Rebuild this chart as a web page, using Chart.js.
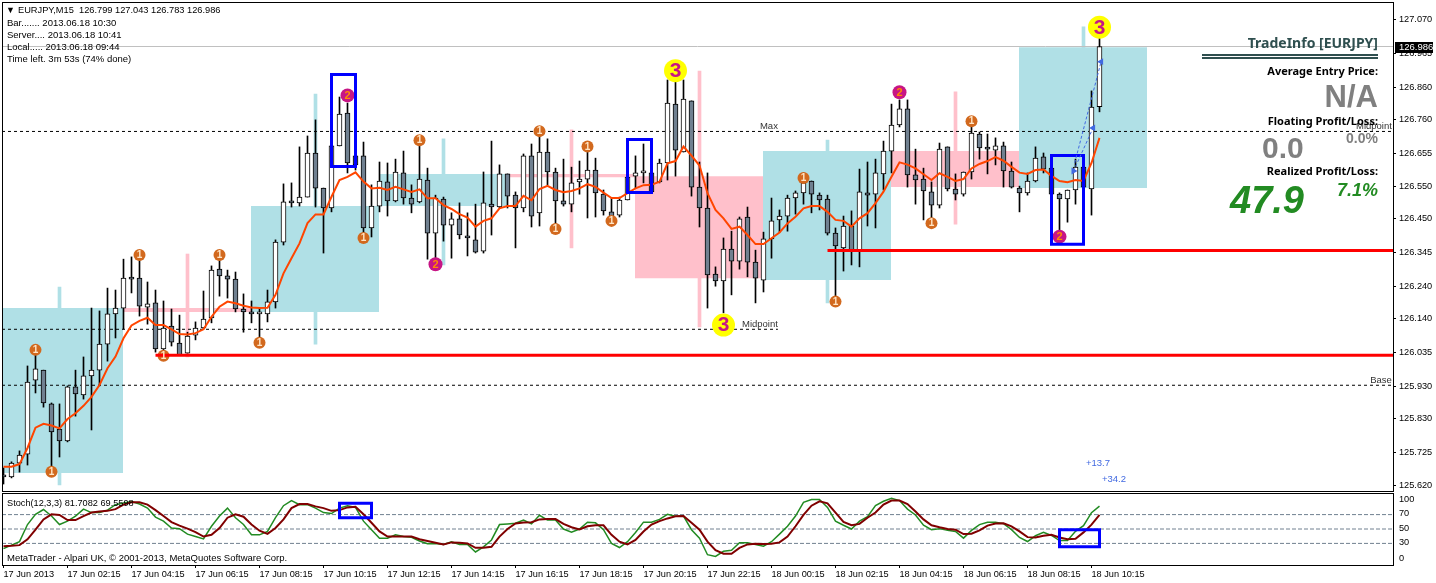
<!DOCTYPE html>
<html>
<head>
<meta charset="utf-8">
<title>EURJPY,M15</title>
<script src="https://cdn.jsdelivr.net/npm/chart.js@4"></script>
<style>
html, body { margin: 0; padding: 0; background: #fff; overflow: hidden; }
canvas { position: absolute; left: 0; }
#main { top: 0; }
#stoch { top: 492px; }
.t { position: absolute; white-space: pre; font-family: "Liberation Sans", sans-serif; line-height: 12px; }
.info { font-size: 9.5px; color: #000; }
.r { right: 58px; text-align: right; font-weight: bold; }
.lab { font-family: "Noto Sans", sans-serif; font-size: 11px; color: #000; line-height: 14px; }
.grey { color: #808080; }
.green { color: #228b22; font-style: italic; }
.rule { position: absolute; left: 1202px; width: 176px; height: 2px; background: #2f4f4f; }
</style>
</head>
<body>
<canvas id="main" width="1436" height="492"></canvas>
<canvas id="stoch" width="1436" height="91"></canvas>

<div class="t info" style="left:6px;top:4px;font-size:9px">&#9660;</div>
<div class="t info" style="left:18px;top:4px;font-size:9.25px">EURJPY,M15  126.799 127.043 126.783 126.986</div>
<div class="t info" style="left:7px;top:17px">Bar....... 2013.06.18 10:30</div>
<div class="t info" style="left:7px;top:29px">Server.... 2013.06.18 10:41</div>
<div class="t info" style="left:7px;top:41px">Local..... 2013.06.18 09:44</div>
<div class="t info" style="left:7px;top:53px">Time left. 3m 53s (74% done)</div>
<div class="t info" style="left:7px;top:497px;font-size:9.2px">Stoch(12,3,3) 81.7082 69.5598</div>
<div class="t info" style="left:7px;top:552px">MetaTrader - Alpari UK, © 2001-2013, MetaQuotes Software Corp.</div>

<div class="t r lab" style="top:36px;font-size:14px;color:#2f4f4f">TradeInfo [EURJPY]</div>
<div class="rule" style="top:54px"></div>
<div class="rule" style="top:57px"></div>
<div class="t r lab" style="top:64px">Average Entry Price:</div>
<div class="t r grey" style="top:80px;font-size:31px;line-height:34px">N/A</div>
<div class="t r lab" style="top:114px">Floating Profit/Loss:</div>
<div class="t r grey" style="top:130px;font-size:14px;line-height:16px">0.0%</div>
<div class="t grey" style="left:1262px;top:131px;font-size:30px;line-height:34px;font-weight:bold">0.0</div>
<div class="t r lab" style="top:164px">Realized Profit/Loss:</div>
<div class="t r green" style="top:180px;font-size:18px;line-height:20px">7.1%</div>
<div class="t green" style="left:1230px;top:178px;font-size:38px;line-height:44px;font-weight:bold">47.9</div>

<script>
// bars, oldest first (17 Jun 00:15 .. 18 Jun 10:30, M15)
const opens = [125.651,125.648,125.691,125.719,125.949,125.980,125.875,125.797,125.760,125.928,125.903,125.962,125.980,126.061,126.155,126.173,126.266,126.266,126.176,126.189,126.046,126.117,126.064,126.033,126.089,126.111,126.142,126.294,126.273,126.263,126.170,126.161,126.155,126.155,126.192,126.378,126.503,126.500,126.518,126.655,126.546,126.484,126.677,126.779,126.646,126.646,126.422,126.490,126.565,126.506,126.593,126.515,126.503,126.571,126.406,126.512,126.431,126.450,126.397,126.385,126.350,126.496,126.487,126.590,126.524,126.484,126.646,126.469,126.658,126.596,126.506,126.496,126.565,126.574,126.602,126.527,126.472,126.462,126.509,126.583,126.593,126.593,126.565,126.624,126.807,126.658,126.817,126.549,126.484,126.279,126.257,126.356,126.319,126.456,126.316,126.260,126.388,126.447,126.459,126.515,126.531,126.568,126.524,126.512,126.406,126.360,126.428,126.353,126.531,126.527,126.590,126.661,126.742,126.792,126.587,126.574,126.534,126.493,126.674,126.543,126.527,126.596,126.714,126.671,126.664,126.677,126.599,126.546,126.531,126.568,126.643,126.608,126.527,126.512,126.540,126.611,126.543,126.799];
const highs = [125.676,125.695,125.729,125.993,126.027,125.980,125.878,125.875,125.931,125.980,126.021,126.173,126.164,126.235,126.229,126.325,126.332,126.338,126.254,126.229,126.195,126.170,126.151,126.098,126.130,126.226,126.304,126.322,126.291,126.285,126.217,126.195,126.173,126.229,126.385,126.559,126.562,126.674,126.708,126.758,126.546,126.677,126.829,126.810,126.664,126.689,126.556,126.627,126.624,126.636,126.661,126.556,126.695,126.608,126.524,126.518,126.469,126.500,126.469,126.496,126.596,126.692,126.618,126.590,126.534,126.652,126.683,126.723,126.699,126.608,126.636,126.611,126.630,126.674,126.639,126.540,126.515,126.518,126.580,126.646,126.683,126.593,126.636,126.882,126.882,126.882,126.817,126.627,126.593,126.301,126.391,126.412,126.456,126.487,126.353,126.409,126.515,126.478,126.524,126.537,126.593,126.568,126.531,126.524,126.422,126.459,126.475,126.605,126.627,126.636,126.692,126.807,126.820,126.820,126.667,126.608,126.565,126.686,126.674,126.590,126.596,126.739,126.720,126.714,126.702,126.689,126.627,126.552,126.593,126.674,126.655,126.608,126.531,126.540,126.636,126.611,126.848,127.043];
const lows = [125.626,125.645,125.663,125.685,125.909,125.865,125.670,125.710,125.757,125.837,125.890,125.794,125.931,126.008,126.080,126.108,126.220,126.148,126.123,126.036,126.036,126.055,126.027,126.033,126.074,126.108,126.127,126.210,126.204,126.161,126.098,126.127,126.067,126.130,126.173,126.369,126.487,126.490,126.518,126.487,126.344,126.472,126.677,126.593,126.602,126.394,126.394,126.472,126.459,126.503,126.496,126.469,126.500,126.325,126.328,126.381,126.328,126.388,126.335,126.344,126.344,126.400,126.484,126.484,126.360,126.472,126.425,126.428,126.556,126.422,126.490,126.472,126.527,126.453,126.456,126.462,126.447,126.456,126.509,126.546,126.562,126.534,126.562,126.571,126.583,126.658,126.521,126.425,126.173,126.241,126.158,126.214,126.294,126.270,126.189,126.223,126.328,126.409,126.412,126.465,126.496,126.469,126.478,126.400,126.192,126.288,126.307,126.301,126.428,126.422,126.540,126.593,126.736,126.549,126.496,126.447,126.453,126.484,126.537,126.509,126.521,126.574,126.636,126.590,126.618,126.549,126.546,126.472,126.524,126.565,126.593,126.527,126.416,126.440,126.496,126.549,126.462,126.783];
const closes = [125.648,125.691,125.716,125.943,125.984,125.878,125.788,125.760,125.928,125.906,125.962,125.980,126.061,126.155,126.173,126.266,126.263,126.179,126.186,126.046,126.111,126.067,126.027,126.086,126.111,126.139,126.291,126.273,126.263,126.170,126.161,126.155,126.155,126.192,126.378,126.503,126.500,126.518,126.655,126.546,126.484,126.677,126.776,126.624,126.618,126.422,126.490,126.568,126.506,126.596,126.515,126.496,126.574,126.406,126.515,126.431,126.450,126.400,126.391,126.347,126.500,126.487,126.590,126.521,126.484,126.646,126.459,126.658,126.596,126.506,126.496,126.562,126.574,126.602,126.531,126.475,126.456,126.509,126.580,126.593,126.593,126.534,126.624,126.810,126.664,126.823,126.549,126.484,126.276,126.257,126.356,126.319,126.450,126.316,126.266,126.388,126.444,126.459,126.515,126.531,126.562,126.527,126.509,126.406,126.366,126.428,126.353,126.534,126.524,126.593,126.661,126.742,126.792,126.587,126.571,126.537,126.493,126.667,126.543,126.527,126.596,126.717,126.671,126.667,126.677,126.599,126.549,126.531,126.568,126.639,126.605,126.527,126.512,126.540,126.611,126.549,126.798,126.986];
const maLine = [125.680,125.680,125.688,125.738,125.801,125.813,125.808,125.799,125.828,125.846,125.869,125.897,125.934,125.986,126.022,126.079,126.119,126.133,126.143,126.120,126.120,126.107,126.092,126.091,126.095,126.107,126.146,126.177,126.193,126.188,126.180,126.175,126.173,126.174,126.214,126.281,126.328,126.374,126.437,126.464,126.464,126.519,126.571,126.581,126.595,126.566,126.545,126.547,126.540,126.550,126.542,126.534,126.542,126.514,126.514,126.493,126.481,126.465,126.454,126.426,126.444,126.452,126.483,126.490,126.490,126.522,126.508,126.543,126.553,126.540,126.533,126.537,126.545,126.558,126.550,126.532,126.515,126.515,126.530,126.545,126.555,126.556,126.566,126.623,126.630,126.675,126.647,126.616,126.530,126.478,126.452,126.419,126.426,126.400,126.372,126.372,126.390,126.408,126.436,126.457,126.483,126.490,126.490,126.472,126.447,126.444,126.426,126.452,126.468,126.499,126.535,126.581,126.626,126.619,126.607,126.589,126.571,126.592,126.581,126.568,126.574,126.607,126.621,126.630,126.642,126.631,126.612,126.594,126.590,126.602,126.604,126.584,126.568,126.564,126.571,126.568,126.624,126.702];

// stochastic %K and %D
const stochK = [22.8,27.6,32.4,56.2,70.4,77.1,68,56.2,60.9,68,77.6,72.8,72.8,76.2,83.8,86.2,88.1,84.7,79,66.6,60.9,51.4,50.5,42.9,39.5,36.2,53.8,68,79,65.7,56.2,41.9,41.9,46.6,65.7,82.4,89.5,83.8,83.8,79,72.8,71.4,79,82.4,80,60.9,49,37.1,37.1,41.9,39.5,38.6,33.3,29.5,30,28.6,32.4,28.6,28.6,18.1,25.2,34.8,56.2,57.1,58.1,62.4,57.1,69,62.4,62.4,50,45.7,50,59.5,58.6,49,30,24.3,32.4,45.2,59.5,59.5,63.3,70.4,67.6,68,49,37.1,14.3,11.9,19,20.5,30.9,30.9,28.6,26.2,32.4,42.9,53.8,68,87.1,90.9,90.9,80,60.9,55.2,50,60.9,67.1,82.4,88.5,92.8,89.5,77.6,69.5,55.2,49,50.5,48.1,46.6,37.3,48.1,56.1,59.4,59.4,57.5,49.1,38.2,32.6,40.6,45.3,41,34,34,46.7,54.7,72.6,81.7];
const stochD = [26.2,26.7,27.6,35.7,49,63.3,70.4,69.5,62.4,62.4,68,72.8,74.3,75.2,77.6,83.8,87.1,87.1,83.8,76.2,68,59.5,54.7,50.5,45.7,39.5,41.9,51.4,65.7,70.4,67.1,56.2,47.6,43.3,51.4,63.3,79,84.7,84.7,81.4,79,75.2,76.2,80,80.9,70.4,58.6,46.6,39.5,39.5,39.5,39.5,35.7,33.3,30.9,28.6,31.4,30.9,30,23.8,23.8,25.2,39.5,50,57.6,59,59.5,63.3,63.8,63.8,57.1,52.4,49.5,53.8,55.2,55.2,41.9,32.4,28.6,34.8,46.6,56.2,60.9,64.7,67.6,68,58.6,49,32.4,20.5,15.7,15.7,23.8,28.6,29.5,29,29.5,31.4,39.5,53.8,69.5,82.4,88.5,85.7,72.8,60,55.2,57.1,65.7,72.8,83.8,89.5,89.5,84.7,74.3,63.3,55.2,52.4,50,49,42.9,43.4,48.1,54.7,57.5,58,53.7,46.7,38.7,38.2,40.6,42,38.2,35.9,36.3,45.3,56.1,69.56];

// axis ticks
const priceTicks = [127.07,126.965,126.86,126.76,126.655,126.55,126.45,126.345,126.24,126.14,126.035,125.93,125.83,125.725,125.62];
const timeLabels = ['17 Jun 2013','17 Jun 02:15','17 Jun 04:15','17 Jun 06:15','17 Jun 08:15','17 Jun 10:15','17 Jun 12:15','17 Jun 14:15','17 Jun 16:15','17 Jun 18:15','17 Jun 20:15','17 Jun 22:15','18 Jun 00:15','18 Jun 02:15','18 Jun 04:15','18 Jun 06:15','18 Jun 08:15','18 Jun 10:15'];
const timeTickBars = [0,8,16,24,32,40,48,56,64,72,80,88,96,104,112,120,128,136];
const stochLevels = [70,50,30];
const stochTickSpots = [91,71,51,31,9]; // MT4 pushes 100 and 0 inside the pane
const stochTickLabels = ['100','70','50','30','0'];

// 4h candles behind the chart
const zoneEdges = [-1,15,31,47,63,79,95,111,127,143];
const zoneTop = [126.173,126.173,126.490,126.590,126.590,126.583,126.661,126.661,126.984];
const zoneBottom = [125.660,126.161,126.161,126.490,126.580,126.266,126.260,126.549,126.546];
const zoneUp = [true,false,true,true,false,false,true,false,true];
const zoneWickBar = [7,23,39,55,71,87,103,119,135];
const zoneWickHigh = [126.238,126.341,126.838,126.699,126.727,126.910,126.695,126.845,127.047];
const zoneWickLow = [125.623,126.021,126.061,126.307,126.360,126.114,126.189,126.434,126.546];

// levels
const maxLevel = 126.722;
const midLevel = 126.107;
const midLevelEnd = 96.8;
const baseLevel = 125.933;
const supportPrices = [126.026,126.352];
const supportStarts = [19,103];

// numbered swing markers
const marker1Bars = [4,6,17,20,27,32,45,52,67,69,73,76,100,104,116,121];
const marker1Prices = [126.043,125.664,126.338,126.025,126.338,126.065,126.391,126.695,126.723,126.419,126.675,126.444,126.577,126.193,126.437,126.754];
const marker2Bars = [43,54,112,132];
const marker2Prices = [126.834,126.309,126.844,126.395];
const marker3Bars = [84,90,137];
const marker3Prices = [126.911,126.120,127.046];

// blue boxes
const boxLeft = [41,78,131];
const boxRight = [44,81,135];
const boxTop = [126.899,126.697,126.647];
const boxBottom = [126.613,126.532,126.371];
const stochBoxLeft = [42,132];
const stochBoxRight = [46,137];
const stochBoxTop = [85.7,49];
const stochBoxBottom = [65.5,25.4];

// trade arrows
const tradeBars = [133.75,136.2,137.2];
const tradePrices = [126.599,126.733,126.939];
const tradeRotation = [90,-90,-90];
const tradePathA = [{x:133.75,y:126.599},{x:136.2,y:126.733}];
const tradePathB = [{x:133.9,y:126.624},{x:137.2,y:126.939}];

// chart text tied to data positions
const chartNotes = [
  {text:'Max', x:96.8, y:126.739, align:'right', color:'#333'},
  {text:'Midpoint', x:96.8, y:126.123, align:'right', color:'#333'},
  {text:'Midpoint', x:173.55, y:126.739, align:'right', color:'#333'},
  {text:'Base', x:173.55, y:125.949, align:'right', color:'#333'},
  {text:'+13.7', x:135.3, y:125.691, align:'left', color:'#4169e1'},
  {text:'+34.2', x:137.3, y:125.639, align:'left', color:'#4169e1'}
];

const lastClose = closes[closes.length - 1];
const barIndex = opens.map((v, i) => i);
const xMin = -0.1875;
const xMax = 173.6875;
const FONT = '9.5px "Liberation Sans", sans-serif';
const TEAL = '#b0e0e6';
const PINK = '#ffc0cb';

function lineSet(points, color, width, order, extra) {
  return Object.assign({
    type: 'line', data: points, borderColor: color, borderWidth: width,
    pointRadius: 0, tension: 0, fill: false, order: order
  }, extra || {});
}
function boxSet(l, r, t, b, order) {
  return lineSet([{x:l,y:t},{x:r,y:t},{x:r,y:b},{x:l,y:b},{x:l,y:t}], '#0000ff', 3, order,
    {borderJoinStyle: 'miter', borderCapStyle: 'square'});
}
function markerSet(bars, prices, color, radius, order) {
  return {
    type: 'scatter', data: bars.map((b, i) => ({x: b, y: prices[i]})),
    backgroundColor: color, borderWidth: 0, pointRadius: radius, order: order
  };
}

const datasets = [];

// zones, half a pixel left of the bar so the edges stay sharp
zoneTop.forEach((top, i) => {
  const col = zoneUp[i] ? TEAL : PINK;
  datasets.push(lineSet(
    [{x: zoneEdges[i] - 0.0625, y: top}, {x: zoneEdges[i + 1] - 0.0625, y: top}],
    col, 0, 20, {fill: {value: zoneBottom[i]}, backgroundColor: col}));
});
datasets.push({
  type: 'bar', grouped: false, barThickness: 3, order: 19,
  data: zoneWickBar.map((b, i) => ({x: b, y: [zoneWickLow[i], zoneWickHigh[i]]})),
  backgroundColor: zoneUp.map(u => u ? TEAL : PINK), borderWidth: 0
});

// price line and dashed levels
datasets.push(lineSet([{x:xMin,y:lastClose},{x:xMax,y:lastClose}], '#c0c0c0', 1, 18));
datasets.push(lineSet([{x:xMin,y:maxLevel},{x:xMax,y:maxLevel}], '#000', 1, 17, {borderDash:[3,3]}));
datasets.push(lineSet([{x:xMin,y:midLevel},{x:midLevelEnd,y:midLevel}], '#000', 1, 17, {borderDash:[3,3]}));
datasets.push(lineSet([{x:xMin,y:baseLevel},{x:xMax,y:baseLevel}], '#000', 1, 17, {borderDash:[3,3]}));

// candles
datasets.push({
  type: 'bar', grouped: false, barThickness: 1, order: 16,
  data: barIndex.map(i => ({x: i, y: [lows[i], highs[i]]})),
  backgroundColor: '#000', borderWidth: 0
});
datasets.push({
  type: 'bar', grouped: false, barThickness: 5, order: 15, minBarLength: 2,
  data: barIndex.map(i => ({x: i, y: [opens[i], closes[i]]})),
  backgroundColor: barIndex.map(i => closes[i] >= opens[i] ? '#fff' : '#708090'),
  borderColor: '#000', borderWidth: 1, borderSkipped: false
});

datasets.push(lineSet(barIndex.map(i => ({x: i, y: maLine[i]})), '#ff4500', 2, 14));

const marker1Set = markerSet(marker1Bars, marker1Prices, '#d2691e', 6, 13);
const marker2Set = markerSet(marker2Bars, marker2Prices, '#c71585', 7, 13);
const marker3Set = markerSet(marker3Bars, marker3Prices, '#ffff00', 11.5, 13);
datasets.push(marker1Set, marker2Set, marker3Set);

supportPrices.forEach((p, i) => {
  datasets.push(lineSet([{x: supportStarts[i], y: p}, {x: xMax, y: p}], '#ff0000', 3, 12));
});
boxLeft.forEach((l, i) => datasets.push(boxSet(l, boxRight[i], boxTop[i], boxBottom[i], 11)));

datasets.push(lineSet(tradePathA, '#4169e1', 1, 10, {borderDash:[3,2]}));
datasets.push(lineSet(tradePathB, '#4169e1', 1, 10, {borderDash:[3,2]}));
datasets.push({
  type: 'scatter', data: tradeBars.map((b, i) => ({x: b, y: tradePrices[i]})),
  backgroundColor: '#4169e1', borderWidth: 0, pointRadius: 4, pointStyle: 'triangle',
  pointRotation: tradeRotation, order: 9
});

const paneFrame = {
  id: 'paneFrame',
  afterDraw(chart) {
    const {ctx, chartArea: a} = chart;
    ctx.save();
    ctx.strokeStyle = '#000';
    ctx.lineWidth = 1;
    ctx.strokeRect(a.left + 0.5, a.top + 0.5, a.right - a.left, a.bottom - a.top);
    ctx.restore();
  }
};

const markerDigits = {
  id: 'markerDigits',
  afterDatasetsDraw(chart) {
    const {ctx} = chart;
    const styles = [
      [marker1Set, '1', 'bold 10px "Liberation Sans"', '#ffe4c4'],
      [marker2Set, '2', 'bold 11px "Liberation Sans"', '#ff8c00'],
      [marker3Set, '3', 'bold 21px "Liberation Sans"', '#c71585']
    ];
    ctx.save();
    ctx.textAlign = 'center';
    ctx.textBaseline = 'middle';
    styles.forEach(([set, digit, font, col]) => {
      ctx.font = font;
      ctx.fillStyle = col;
      chart.getDatasetMeta(chart.data.datasets.indexOf(set)).data.forEach(pt => {
        ctx.fillText(digit, pt.x, pt.y + 0.5);
      });
    });
    ctx.restore();
  }
};

const notesAndTag = {
  id: 'notesAndTag',
  afterDraw(chart) {
    const {ctx, scales: {x, y}, chartArea: a} = chart;
    ctx.save();
    ctx.font = FONT;
    ctx.textBaseline = 'middle';
    chartNotes.forEach(n => {
      ctx.textAlign = n.align;
      ctx.fillStyle = n.color;
      ctx.fillText(n.text, x.getPixelForValue(n.x), y.getPixelForValue(n.y));
    });
    // current price tag on the axis
    const py = Math.round(y.getPixelForValue(lastClose));
    ctx.fillStyle = '#000';
    ctx.fillRect(a.right + 2, py - 5, 38, 11);
    ctx.fillStyle = '#fff';
    ctx.textAlign = 'left';
    ctx.fillText(lastClose.toFixed(3), a.right + 6, py + 0.5);
    ctx.restore();
  }
};

Chart.defaults.font.family = '"Liberation Sans", sans-serif';
Chart.defaults.font.size = 9.2;
Chart.defaults.color = '#000';

// no label overhang: the panes have to fill the window exactly
function noOverhang(s) {
  s.paddingTop = 0;
  s.paddingBottom = 0;
  s.paddingLeft = 0;
  s.paddingRight = 0;
}

function rightAxis(extra) {
  return Object.assign({
    position: 'right',
    afterFit: s => { s.width = 43; noOverhang(s); },
    border: {display: false},
    grid: {drawOnChartArea: false, tickLength: 3, color: '#000'}
  }, extra);
}

new Chart(document.getElementById('main').getContext('2d'), {
  type: 'bar',
  data: {datasets: datasets},
  options: {
    responsive: false,
    animation: false,
    events: [],
    layout: {autoPadding: false, padding: {top: 2, left: 2, bottom: 1, right: 0}},
    plugins: {legend: {display: false}, tooltip: {enabled: false}},
    scales: {
      x: {type: 'linear', offset: false, min: xMin, max: xMax, display: false},
      y: rightAxis({
        type: 'linear',
        min: 125.6043,
        max: 127.1244,
        afterBuildTicks: s => { s.ticks = priceTicks.map(v => ({value: v})); },
        ticks: {autoSkip: false, padding: 3, callback: v => v.toFixed(3)}
      })
    }
  },
  plugins: [paneFrame, markerDigits, notesAndTag]
});

const stochSets = [];
stochLevels.forEach(l => {
  stochSets.push(lineSet([{x:xMin,y:l},{x:xMax,y:l}], '#708090', 1, 5, {borderDash:[4,2]}));
});
stochSets.push(lineSet(barIndex.map(i => ({x: i, y: stochK[i]})), '#228b22', 1.5, 4));
stochSets.push(lineSet(barIndex.map(i => ({x: i, y: stochD[i]})), '#800000', 2, 3));
stochBoxLeft.forEach((l, i) => {
  stochSets.push(boxSet(l, stochBoxRight[i], stochBoxTop[i], stochBoxBottom[i], 2));
});

new Chart(document.getElementById('stoch').getContext('2d'), {
  type: 'line',
  data: {datasets: stochSets},
  options: {
    responsive: false,
    animation: false,
    events: [],
    layout: {autoPadding: false, padding: {top: 1, left: 2, bottom: 0, right: 0}},
    plugins: {legend: {display: false}, tooltip: {enabled: false}},
    scales: {
      x: {
        type: 'linear', offset: false, min: xMin, max: xMax,
        afterFit: s => { s.height = 18; noOverhang(s); },
        afterBuildTicks: s => { s.ticks = timeTickBars.map(v => ({value: v})); },
        border: {display: false},
        grid: {drawOnChartArea: false, tickLength: 3, color: '#000'},
        ticks: {autoSkip: false, maxRotation: 0, align: 'start', padding: 1, callback: (v, i) => timeLabels[i]}
      },
      y: rightAxis({
        type: 'linear',
        min: 0,
        max: 100,
        afterBuildTicks: s => { s.ticks = stochTickSpots.map(v => ({value: v})); },
        grid: {drawOnChartArea: false, drawTicks: false, tickLength: 3, color: '#000'},
        ticks: {autoSkip: false, padding: 6, callback: (v, i) => stochTickLabels[i]}
      })
    }
  },
  plugins: [paneFrame]
});
</script>
</body>
</html>
